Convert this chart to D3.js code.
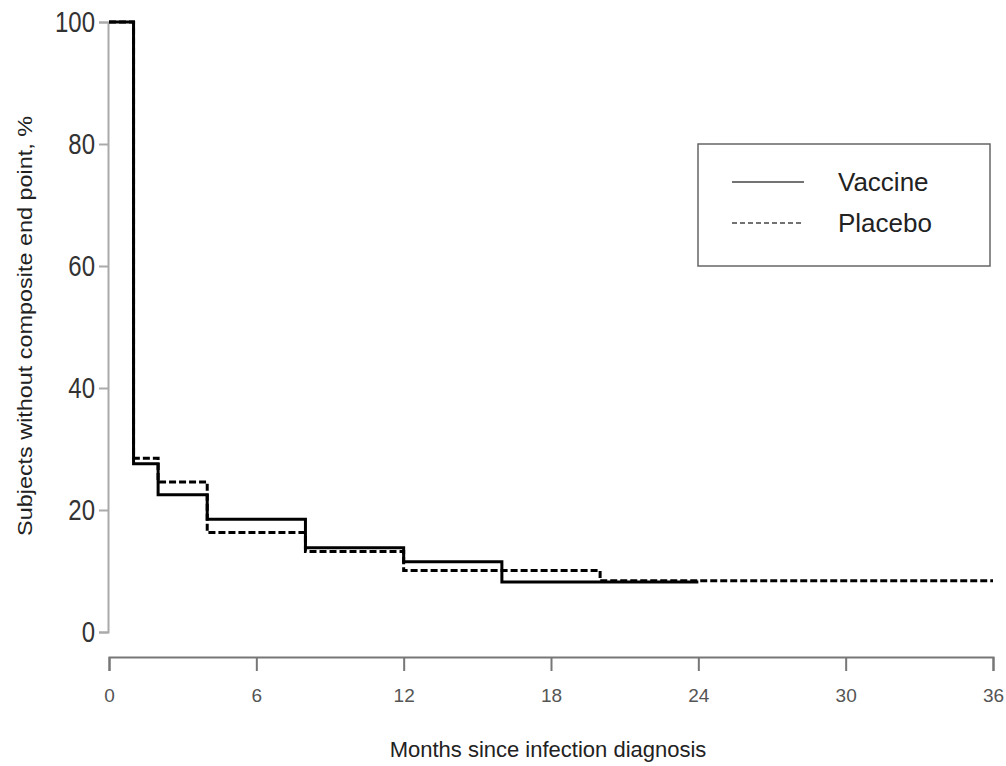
<!DOCTYPE html>
<html>
<head>
<meta charset="utf-8">
<script src="https://cdn.jsdelivr.net/npm/d3@7"></script>
<style>
  body { margin: 0; background: #fff; }
  svg { font-family: "Liberation Sans", Arial, sans-serif; }
</style>
</head>
<body>
<svg id="chart" width="1006" height="766"></svg>
<script>
// step curves: [month, percent] - value holds from this month until the next point
const vaccine = [[0, 100], [1, 27.6], [2, 22.5], [4, 18.5], [8, 13.8], [12, 11.5], [16, 8.2], [24, 8.2]];
const placebo = [[0, 100], [1, 28.5], [2, 24.6], [4, 16.3], [8, 13.2], [12, 10.1], [20, 8.4], [36, 8.4]];
const xTicks = [0, 6, 12, 18, 24, 30, 36];
const yTicks = [0, 20, 40, 60, 80, 100];
const seriesNames = ["Vaccine", "Placebo"];

const svg = d3.select("#chart");

const x = d3.scaleLinear().domain([0, 36]).range([109, 993]);
const y = d3.scaleLinear().domain([0, 100]).range([632, 22]);

// y axis (R style, detached)
const yAxis = svg.append("g")
  .attr("transform", "translate(108,0)")
  .call(d3.axisLeft(y).tickValues(yTicks).tickSize(9).tickPadding(4));
yAxis.select(".domain").attr("stroke", "#aaa").attr("stroke-width", 2);
yAxis.selectAll(".tick line").attr("stroke", "#aaa").attr("stroke-width", 2);
yAxis.selectAll(".tick text")
  .attr("fill", "#333")
  .attr("font-size", 24)
  .attr("dy", "0.32em")
  .attr("transform", "scale(1,1.2)");

const xAxis = svg.append("g")
  .attr("transform", "translate(0,657)")
  .call(d3.axisBottom(x).tickValues(xTicks).tickSize(14).tickPadding(18));
xAxis.select(".domain").attr("stroke", "#777").attr("stroke-width", 2);
xAxis.selectAll(".tick line").attr("stroke", "#777").attr("stroke-width", 2);
xAxis.selectAll(".tick text")
  .attr("fill", "#555")
  .attr("font-size", 19);

svg.append("text")
  .attr("x", 548)
  .attr("y", 757)
  .attr("text-anchor", "middle")
  .attr("font-size", 22)
  .attr("fill", "#222")
  .text("Months since infection diagnosis");

svg.append("text")
  .attr("transform", "translate(32,326) rotate(-90) scale(1.17,1)")
  .attr("text-anchor", "middle")
  .attr("font-size", 20)
  .attr("fill", "#222")
  .text("Subjects without composite end point, %");

const line = d3.line()
  .x(d => x(d[0]))
  .y(d => y(d[1]))
  .curve(d3.curveStepAfter);

svg.append("path")
  .datum(placebo)
  .attr("d", line)
  .attr("fill", "none")
  .attr("stroke", "#000")
  .attr("stroke-width", 3)
  .attr("stroke-dasharray", "7,3");

svg.append("path")
  .datum(vaccine)
  .attr("d", line)
  .attr("fill", "none")
  .attr("stroke", "#000")
  .attr("stroke-width", 3);

// legend
const legend = svg.append("g");
legend.append("rect")
  .attr("x", 698).attr("y", 144)
  .attr("width", 292).attr("height", 122)
  .attr("fill", "#fff")
  .attr("stroke", "#666")
  .attr("stroke-width", 1.5);

seriesNames.forEach((name, i) => {
  const ly = 182 + i * 41;
  legend.append("line")
    .attr("x1", 732).attr("x2", 804)
    .attr("y1", ly).attr("y2", ly)
    .attr("stroke", "#444")
    .attr("stroke-width", 1.5)
    .attr("stroke-dasharray", i === 1 ? "5,3" : null);
  legend.append("text")
    .attr("x", 838)
    .attr("y", ly)
    .attr("dy", "0.36em")
    .attr("font-size", 26)
    .attr("fill", "#222")
    .text(name);
});
</script>
</body>
</html>
